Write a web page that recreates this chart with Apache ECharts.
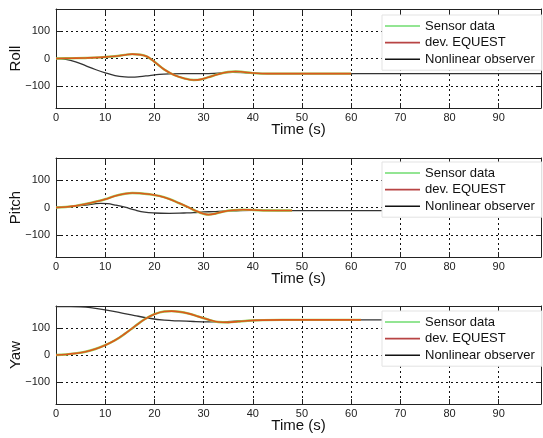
<!DOCTYPE html>
<html><head><meta charset="utf-8">
<script src="https://cdn.jsdelivr.net/npm/echarts@6/dist/echarts.min.js"></script>
<style>html,body{margin:0;padding:0;background:#fff}#c{width:543px;height:438px}</style>
</head><body><div id="c"></div>
<script>
// ---- data ----
const panelNames = ['Roll', 'Pitch', 'Yaw'];
const xLabel = 'Time (s)';
const seriesNames = ['Sensor data', 'dev. EQUEST', 'Nonlinear observer'];
const yTickValues = [-100, 0, 100];
const xRange = [0, 98.6];
const yRange = [-180, 180];

// Roll
const rollTimeEq = [0, 3, 6, 9, 12, 14, 15.5, 17, 18.4, 19.5, 20.5, 22, 24, 26, 28, 29.5, 31, 33, 35, 36.5, 38, 40, 43, 46, 50, 55, 60];
const rollSensor = [0, 1, 2, 4, 8, 13, 16, 14, 8, -5, -19, -40, -60, -72, -78, -76, -68, -57, -49, -47, -49, -53, -55, -55, -55, -55, -55];
const rollEquest = [0, 1, 2, 4, 8, 13, 16, 14, 8, -5, -19, -40, -60, -72, -78, -76, -68, -57, -49, -47, -49, -53, -55, -55, -55, -55, -55];
const rollTimeObs = [0, 2, 4, 6, 8, 10, 12, 14, 15.5, 17, 19, 21, 23, 26, 30, 33, 36, 39, 42, 50, 60, 70, 98.6];
const rollObserver = [0, -3, -12, -26, -40, -52, -62, -67, -68, -66, -62, -58, -56, -55, -55, -53, -50, -52, -55, -55, -55, -55, -55];

// Pitch
const pitchTimeEq = [0, 2, 4, 6, 8, 10, 12, 14, 15.5, 17, 19, 21, 23, 25, 27, 28.5, 30, 31, 32.5, 34, 36, 38, 40, 43, 46, 48];
const pitchSensor = [0, 2, 6, 13, 21, 30, 42, 50, 53, 52, 48, 42, 31, 16, 0, -13, -23, -26, -22, -15, -10, -8, -9, -11, -11, -11];
const pitchEquest = [0, 2, 6, 13, 21, 30, 42, 50, 53, 52, 48, 42, 31, 16, 0, -13, -23, -26, -22, -15, -10, -8, -9, -11, -11, -11];
const pitchTimeObs = [0, 3, 6, 9, 10.5, 12, 14, 16, 18, 20, 23, 26, 28, 30, 32, 34, 36, 40, 45, 50, 66, 98.6];
const pitchObserver = [0, 3, 9, 15, 14, 9, 1, -9, -17, -20, -21, -20, -19, -16, -15, -13, -12, -10, -11, -11, -11, -11];

// Yaw
const yawTimeEq = [0, 2, 4, 6, 8, 10, 12, 14, 16, 18, 20, 22, 23.5, 25, 27, 29, 31, 33, 35, 37, 39, 42, 46, 50, 55, 62];
const yawSensor = [0, 2, 6, 12, 22, 36, 54, 78, 105, 131, 150, 160, 161, 159, 152, 141, 130, 121, 120, 123, 126, 128, 129, 129, 129, 129];
const yawEquest = [0, 2, 6, 12, 22, 36, 54, 78, 105, 131, 150, 160, 161, 159, 152, 141, 130, 121, 120, 123, 126, 128, 129, 129, 129, 129];
const yawTimeObs = [0, 3, 5, 7, 10, 13, 16, 19, 22, 25, 28, 31, 34, 37, 40, 45, 50, 60, 98.6];
const yawObserver = [178, 178, 177, 174, 166, 156, 145, 135, 128, 125, 123, 122, 122, 125, 127, 129, 129, 129, 129];

const panels = [
  { sensorT: rollTimeEq, sensor: rollSensor, eqT: rollTimeEq, eq: rollEquest, obsT: rollTimeObs, obs: rollObserver },
  { sensorT: pitchTimeEq, sensor: pitchSensor, eqT: pitchTimeEq, eq: pitchEquest, obsT: pitchTimeObs, obs: pitchObserver },
  { sensorT: yawTimeEq, sensor: yawSensor, eqT: yawTimeEq, eq: yawEquest, obsT: yawTimeObs, obs: yawObserver }
];

// ---- styling / layout ----
const FONT = 'Liberation Sans, Arial, Helvetica, sans-serif';
const grids = [
  { left: 56, top: 9, width: 485, height: 99, outerBoundsMode: 'none', containLabel: false },
  { left: 56, top: 158, width: 485, height: 99, outerBoundsMode: 'none', containLabel: false },
  { left: 56, top: 306, width: 485, height: 98, outerBoundsMode: 'none', containLabel: false }
];
const legendTops = [15, 162, 311];
const colSensor = '#9ad45a', colEq = '#dc581c', colObs = '#333333';
const pair = (t, v) => t.map((x, i) => [x, v[i]]);
const fmtMinus = v => String(v).replace('-', '\u2212');

const xAxes = [], yAxes = [], series = [], legends = [];
grids.forEach((g, p) => {
  xAxes.push({
    gridIndex: p, type: 'value', min: xRange[0], max: xRange[1], interval: 10,
    name: xLabel, nameLocation: 'middle', nameGap: 14.5, nameMoveOverlap: false,
    nameTextStyle: { fontFamily: FONT, fontSize: 15, color: '#111' },
    axisLine: { onZero: false, lineStyle: { color: '#222', width: 1 } },
    axisTick: { inside: true, length: 5, lineStyle: { color: '#222' } },
    axisLabel: { margin: 4, fontFamily: FONT, fontSize: 11, color: '#222', showMaxLabel: false },
    splitLine: { show: true, lineStyle: { color: '#111', type: [2, 3], width: 1 } }
  });
  yAxes.push({
    gridIndex: p, type: 'value', min: yRange[0], max: yRange[1],
    name: panelNames[p], nameLocation: 'middle', nameGap: 33, nameRotate: 90, nameMoveOverlap: false,
    nameTextStyle: { fontFamily: FONT, fontSize: 15, color: '#111' },
    axisLine: { onZero: false, lineStyle: { color: '#222', width: 1 } },
    axisTick: { inside: true, length: 5, customValues: yTickValues, lineStyle: { color: '#222' } },
    axisLabel: { margin: 6, fontFamily: FONT, fontSize: 11, color: '#222', customValues: yTickValues, formatter: fmtMinus },
    splitLine: { show: true, lineStyle: { color: '#111', type: [2, 3], width: 1 } }
  });
});
grids.forEach((g, p) => {
  xAxes.push({
    gridIndex: p, type: 'value', position: 'top', min: xRange[0], max: xRange[1], interval: 10,
    axisLine: { onZero: false, lineStyle: { color: '#222', width: 1 } },
    axisTick: { inside: true, length: 5, lineStyle: { color: '#222' } },
    axisLabel: { show: false }, splitLine: { show: false }
  });
  yAxes.push({
    gridIndex: p, type: 'value', position: 'right', min: yRange[0], max: yRange[1],
    axisLine: { onZero: false, lineStyle: { color: '#222', width: 1 } },
    axisTick: { inside: true, length: 5, customValues: yTickValues, lineStyle: { color: '#222' } },
    axisLabel: { show: false, customValues: yTickValues }, splitLine: { show: false }
  });
});

panels.forEach((d, p) => {
  const common = { type: 'line', xAxisIndex: p, yAxisIndex: p, showSymbol: false, symbol: 'none', smooth: 0.4, animation: false, z: 3 };
  series.push(Object.assign({}, common, { name: seriesNames[0], data: pair(d.sensorT, d.sensor), lineStyle: { color: colSensor, width: 2.4 }, itemStyle: { color: colSensor } }));
  series.push(Object.assign({}, common, { name: seriesNames[1], data: pair(d.eqT, d.eq), lineStyle: { color: colEq, width: 1.6 }, itemStyle: { color: colEq } }));
  series.push(Object.assign({}, common, { name: seriesNames[2], data: pair(d.obsT, d.obs), lineStyle: { color: colObs, width: 1.3 }, itemStyle: { color: colObs }, z: 2 }));
  legends.push({
    left: 382, top: legendTops[p], orient: 'vertical', selectedMode: false,
    backgroundColor: '#fff', borderColor: '#e3e3e3', borderWidth: 1,
    padding: [4, 7, 4, 3], itemGap: 2.6, itemWidth: 35, itemHeight: 1.6, icon: 'rect',
    textStyle: { fontFamily: FONT, fontSize: 13, lineHeight: 14, color: '#111' },
    data: [
      { name: seriesNames[0], itemStyle: { color: '#6fdc6f' } },
      { name: seriesNames[1], itemStyle: { color: '#b84444' } },
      { name: seriesNames[2], itemStyle: { color: '#111' } }
    ]
  });
});

const chart = echarts.init(document.getElementById('c'), null, { renderer: 'canvas' });
chart.setOption({
  backgroundColor: '#fff',
  animation: false,
  grid: grids,
  xAxis: xAxes,
  yAxis: yAxes,
  legend: legends,
  series: series
});
</script>
</body></html>
